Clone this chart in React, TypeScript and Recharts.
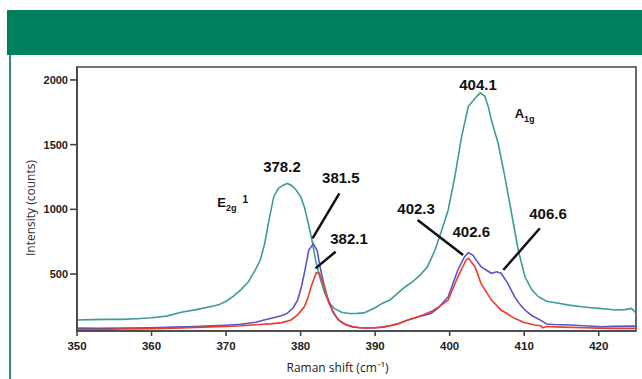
import React from 'react';
import { LineChart, Line, XAxis, YAxis, ReferenceArea, ReferenceLine, ReferenceDot } from 'recharts';

// Raman spectra: [shift (cm-1), intensity (counts)]
const tealSpectrum: [number, number][] = [
  [350, 145], [352, 148], [354, 150], [356, 150], [358, 155], [360, 162], [362, 175], [364, 205],
  [366, 225], [368, 250], [369, 262], [370, 290], [371, 330], [372, 380], [373, 440], [374, 540],
  [374.6, 610], [375.2, 740], [375.8, 930], [376.4, 1098], [377, 1160], [377.6, 1185], [378.2, 1200],
  [378.8, 1185], [379.4, 1150], [380, 1098], [380.5, 1020], [381, 900], [381.5, 770], [382, 610],
  [382.6, 470], [383.2, 360], [383.8, 280], [384.5, 235], [385.5, 205], [386.5, 195], [387.6, 196],
  [388.5, 200], [390, 240], [391, 275], [392, 300], [393, 350], [394, 400], [395, 440], [396, 490],
  [397, 555], [398, 680], [399, 850], [399.8, 995], [400.7, 1253], [401.6, 1562], [402.5, 1794],
  [403.4, 1859], [404.1, 1900], [404.7, 1875], [405.2, 1790], [405.6, 1691], [406.5, 1511],
  [407.4, 1253], [408.3, 970], [409.2, 686], [410.1, 479], [411, 380], [411.9, 325], [413, 290],
  [414.6, 274], [416, 260], [417.7, 247], [419, 240], [420, 235], [421, 230], [422.2, 222],
  [423.5, 225], [424.4, 235], [425, 200],
];

const blueSpectrum: [number, number][] = [
  [350, 82], [353, 80], [356, 82], [360, 85], [363, 90], [366, 95], [368, 100], [370, 105],
  [372, 112], [374, 128], [375.1, 145], [376.5, 165], [377.5, 180], [378.2, 196], [379, 240],
  [379.6, 299], [380.1, 400], [380.5, 506], [381.1, 686], [381.7, 732], [382.2, 686], [382.7, 531],
  [383.4, 351], [384.3, 209], [385, 150], [386, 110], [387, 92], [388, 85], [389, 83], [390, 85],
  [391, 90], [392, 100], [393, 115], [394.4, 145], [395.5, 165], [396.5, 180], [397.5, 196],
  [398.5, 240], [399.8, 325], [401.1, 531], [402, 634], [402.5, 665], [403.1, 647], [404.2, 557],
  [404.9, 531], [405.6, 506], [406.3, 518], [406.9, 506], [407.8, 428], [408.7, 325], [409.5, 260],
  [410.1, 222], [411, 180], [412.3, 140], [413, 114], [414, 110], [416, 106], [418, 100],
  [420.4, 93], [422, 96], [424.8, 98], [425, 95],
];

const redSpectrum: [number, number][] = [
  [350, 72], [353, 72], [356, 75], [360, 78], [363, 82], [366, 87], [368, 92], [370, 95],
  [372, 100], [374, 108], [376, 115], [377.5, 125], [378.7, 145], [379.6, 185], [380.5, 247],
  [381, 320], [381.4, 402], [382.1, 510], [382.5, 506], [383.2, 402], [383.8, 274], [384.5, 196],
  [385.2, 140], [386, 110], [387, 92], [388, 85], [389, 83], [390, 85], [391, 90], [392, 100],
  [393, 115], [394.4, 145], [395.5, 165], [396.5, 185], [397.5, 210], [398.5, 245], [399.8, 299],
  [401.1, 479], [402.2, 609], [402.5, 622], [403.4, 557], [404.2, 428], [405.6, 299], [406.9, 222],
  [408.7, 158], [410, 125], [411.4, 106], [412.2, 100], [412.5, 85], [413, 95], [415, 90],
  [418, 85], [420, 82], [422, 80], [425, 80],
];

const xTicks = [350, 360, 370, 380, 390, 400, 410, 420];
const yTicks = [500, 1000, 1500, 2000];

// Peak annotations in data coordinates
const peakLabels = [
  { text: '378.2', x: 377.5, y: 1330 },
  { text: '381.5', x: 385.4, y: 1243 },
  { text: '382.1', x: 386.5, y: 776 },
  { text: '404.1', x: 403.8, y: 1965 },
  { text: '402.3', x: 395.5, y: 1008 },
  { text: '402.6', x: 402.9, y: 828 },
  { text: '406.6', x: 413.2, y: 970 },
];

const leaderLines = [
  { x1: 385.2, y1: 1124, x2: 381.6, y2: 776 },
  { x1: 384.7, y1: 673, x2: 382.0, y2: 544 },
  { x1: 395.7, y1: 918, x2: 401.8, y2: 647 },
  { x1: 412.1, y1: 854, x2: 407.2, y2: 531 },
];

const modeLabels = [
  { main: 'E', sub: '2g', sup: '1', x: 369.5, y: 1056 },
  { main: 'A', sub: '1g', sup: '', x: 409.4, y: 1745 },
];

const toPoints = (arr: [number, number][]) => arr.map(([x, y]) => ({ x, y }));

const FONT = 'Liberation Sans, Arial, sans-serif';

const peakText = (text: string) => (props: any) => {
  const vb = props.viewBox || {};
  const cx = vb.x + (vb.width || 0) / 2;
  const cy = vb.y + (vb.height || 0) / 2;
  return (
    <text x={cx} y={cy} textAnchor="middle" dominantBaseline="central" fontFamily={FONT}
      fontWeight="bold" fontSize={15} fill="#111">{text}</text>
  );
};

const modeText = (main: string, sub: string, sup: string) => (props: any) => {
  const vb = props.viewBox || {};
  const cx = vb.x + (vb.width || 0) / 2;
  const cy = vb.y + (vb.height || 0) / 2;
  return (
    <text x={cx - 5} y={cy + 5} fontFamily={FONT} fontWeight="bold" fontSize={13} fill="#111">
      <tspan>{main}</tspan>
      <tspan fontSize={9} dy={4}>{sub}</tspan>
      {sup ? <tspan fontSize={10} dx={6} dy={-8}>{sup}</tspan> : null}
    </text>
  );
};

const xLabel = (props: any) => {
  const vb = props.viewBox;
  return (
    <text x={vb.x + vb.width / 2 - 19} y={vb.y + 41} textAnchor="middle" fontFamily="Open Sans, sans-serif"
      fontSize={12} fill="#222">Raman shift (cm{'\u207B\u00B9'})</text>
  );
};

const yLabel = (props: any) => {
  const vb = props.viewBox;
  const x = 35;
  const y = vb.y + vb.height / 2 + 9;
  return (
    <text x={x} y={y} textAnchor="middle" transform={`rotate(-90, ${x}, ${y})`}
      fontFamily="Open Sans, sans-serif" fontSize={12} fill="#333">Intensity (counts)</text>
  );
};

export default function App() {
  return (
    <div style={{ position: 'absolute', left: 0, top: 0, width: 642, height: 379, background: '#fff', overflow: 'hidden' }}>
      <div style={{ position: 'absolute', left: 7, top: 10, width: 635, height: 45, background: '#007F5F' }} />
      <div style={{ position: 'absolute', left: 9, top: 55, width: 2, height: 324, background: '#2a8f72' }} />
      <div style={{ position: 'absolute', left: 0, top: 0 }}>
        <LineChart width={642} height={379} margin={{ top: 67, right: 6, bottom: 18, left: 17 }}>
          <XAxis dataKey="x" type="number" domain={[350, 425]} ticks={xTicks} allowDataOverflow
            height={30} tickSize={5} tickMargin={6} stroke="#444" strokeWidth={1.6}
            tick={{ fontSize: 11.5, fontWeight: 'bold', fill: '#222', fontFamily: FONT }}
            label={xLabel} />
          <YAxis type="number" domain={[60, 2100]} ticks={yTicks} allowDataOverflow width={60}
            tickSize={7} tickMargin={2} stroke="#444" strokeWidth={1.6}
            tick={{ fontSize: 11, fontWeight: 'bold', fill: '#222', fontFamily: FONT }}
            label={yLabel} />
          <ReferenceArea x1={350} x2={425} y1={60} y2={2100} fill="none" fillOpacity={0}
            stroke="#444" strokeWidth={1.6} ifOverflow="visible" />
          <Line data={toPoints(tealSpectrum)} dataKey="y" stroke="#3b9c9b" strokeWidth={1.6}
            dot={false} isAnimationActive={false} type="linear" />
          <Line data={toPoints(blueSpectrum)} dataKey="y" stroke="#5656c8" strokeWidth={1.6}
            dot={false} isAnimationActive={false} type="linear" />
          <Line data={toPoints(redSpectrum)} dataKey="y" stroke="#f03a2a" strokeWidth={1.6}
            dot={false} isAnimationActive={false} type="linear" />
          {leaderLines.map((l, i) => (
            <ReferenceLine key={`l${i}`} segment={[{ x: l.x1, y: l.y1 }, { x: l.x2, y: l.y2 }]}
              stroke="#111" strokeWidth={2.5} ifOverflow="visible" />
          ))}
          {peakLabels.map((p, i) => (
            <ReferenceDot key={`p${i}`} x={p.x} y={p.y} r={1} fill="none" stroke="none"
              ifOverflow="visible" label={peakText(p.text)} />
          ))}
          {modeLabels.map((m, i) => (
            <ReferenceDot key={`m${i}`} x={m.x} y={m.y} r={1} fill="none" stroke="none"
              ifOverflow="visible" label={modeText(m.main, m.sub, m.sup)} />
          ))}
        </LineChart>
      </div>
    </div>
  );
}
